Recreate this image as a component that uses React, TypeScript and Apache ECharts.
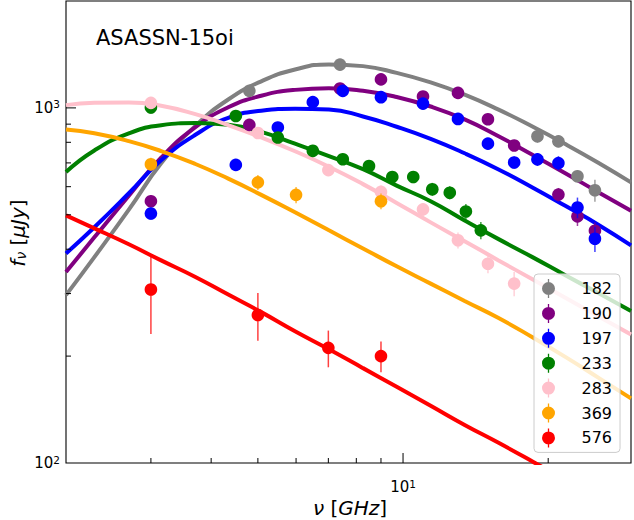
import React, { useEffect, useRef } from 'react';
import * as echarts from 'echarts';

const FONT = 'DejaVu Sans';

const seriesNames = ['182', '190', '197', '233', '283', '369', '576'];
const seriesColors = ['#808080', '#800080', '#0000ff', '#008000', '#ffc0cb', '#ffa500', '#ff0000'];

// observed points: [frequency (GHz), flux density (μJy), error]
const obs182 = [[4.8, 1117, 30], [7.4, 1324, 35], [19, 832, 35], [21, 805, 30], [23, 642, 25], [25, 586, 42]];
const obs190 = [[3, 546, 22], [4.8, 896, 30], [7.4, 1134, 40], [9, 1203, 35], [11, 1077, 35], [13, 1102, 35], [15, 929, 30], [17, 784, 28], [21, 570, 25], [23, 495, 30], [25, 451, 25]];
const obs197 = [[3, 504, 20], [4.5, 691, 22], [5.5, 881, 28], [6.5, 1038, 30], [7.5, 1117, 40], [9, 1072, 30], [11, 1028, 30], [13, 931, 30], [15, 793, 30], [17, 702, 28], [19, 716, 30], [21, 699, 32], [23, 524, 35], [25, 428, 35]];
const obs233 = [[3, 1003, 40], [4.5, 949, 30], [5.5, 825, 28], [6.5, 757, 28], [7.5, 717, 25], [8.5, 686, 25], [9.5, 639, 25], [10.5, 639, 25], [11.5, 590, 25], [12.5, 577, 25], [13.5, 511, 25], [14.5, 452, 25]];
const obs283 = [[3, 1033, 35], [5, 850, 30], [7, 668, 25], [9, 580, 25], [11, 518, 22], [13, 424, 22], [15, 364, 22], [17, 320, 25]];
const obs369 = [[3, 694, 30], [5, 617, 30], [6, 569, 30], [9, 546, 28]];
const obs576 = [[3, 308, 77], [5, 261, 40], [7, 211, 25], [9, 200, 20]];

// model curves
const curveFreq = [2.0, 2.29, 2.7, 3.15, 3.71, 4.34, 5.08, 5.97, 7.02, 8.26, 9.7, 11.41, 13.42, 15.78, 18.55, 21.7, 25.4, 29.7];
const fit182 = [297, 380, 517, 698, 890, 1056, 1188, 1283, 1326, 1311, 1255, 1180, 1090, 989, 886, 791, 701, 617];
const fit190 = [345, 432, 566, 724, 883, 1004, 1082, 1124, 1136, 1117, 1073, 1009, 928, 832, 738, 655, 579, 513];
const fit197 = [389, 461, 575, 712, 840, 938, 982, 995, 990, 946, 885, 818, 745, 671, 597, 530, 469, 410];
const fit233 = [660, 759, 848, 894, 906, 896, 856, 793, 732, 672, 604, 546, 482, 427, 380, 338, 301, 268];
const fit283 = [1018, 1034, 1036, 1014, 960, 894, 826, 755, 683, 610, 540, 476, 421, 372, 329, 292, 259, 230];
const fit369 = [869, 848, 806, 756, 695, 632, 569, 508, 452, 402, 358, 320, 286, 256, 226, 199, 174, 152];
const fit576 = [498, 458, 413, 372, 334, 298, 266, 235, 209, 185, 164, 145, 128, 114, 101, 89.5, 79.6, 70.8];

const xRange = [2, 29.7];
const yRange = [100, 2000];
const xMajorTicks = [10];
const xMinorTicks = [3, 4, 5, 6, 7, 8, 9, 20];
const yMajorTicks = [1000];
const yMinorTicks = [200, 300, 400, 500, 600, 700, 800, 900];

const observed = [obs182, obs190, obs197, obs233, obs283, obs369, obs576];
const fits = [fit182, fit190, fit197, fit233, fit283, fit369, fit576];

const legendIcon =
  'path://M5.85,0 h1.3 v19 h-1.3 Z M0,9.5 a6.5,6.5 0 1,1 13,0 a6.5,6.5 0 1,1 -13,0 Z';

const pow10Label = (v: number) => {
  const e = Math.log10(v);
  const r = Math.round(e);
  if (Math.abs(e - r) > 1e-6) return '';
  return `{a|10}{b|${r}}`;
};

const tickRich = {
  a: { fontSize: 15, lineHeight: 18, fontFamily: FONT, color: '#000' },
  b: { fontSize: 10.5, lineHeight: 10.5, verticalAlign: 'top', fontFamily: FONT, color: '#000' },
};

export default function App() {
  const ref = useRef<HTMLDivElement>(null);

  useEffect(() => {
    if (!ref.current) return;
    const chart = echarts.init(ref.current, undefined, { renderer: 'svg' });

    const series: any[] = [];
    seriesNames.forEach((name, i) => {
      series.push({
        type: 'line',
        name: 'fit-' + name,
        data: curveFreq.map((f, j) => [f, fits[i][j]]),
        symbol: 'none',
        showSymbol: false,
        smooth: 0.5,
        clip: true,
        silent: true,
        lineStyle: { color: seriesColors[i], width: 4 },
        z: 2,
      });
    });
    seriesNames.forEach((name, i) => {
      const color = seriesColors[i];
      series.push({
        type: 'custom',
        name,
        data: observed[i],
        encode: { x: 0, y: 1 },
        itemStyle: { color },
        z: 3,
        silent: true,
        renderItem: (params: any, api: any) => {
          const x = api.value(0);
          const y = api.value(1);
          const e = api.value(2);
          const c = api.coord([x, y]);
          const top = api.coord([x, y + e]);
          const bot = api.coord([x, y - e]);
          return {
            type: 'group',
            children: [
              {
                type: 'line',
                shape: { x1: c[0], y1: top[1], x2: c[0], y2: bot[1] },
                style: { stroke: color, lineWidth: 1.5, opacity: 0.75 },
              },
              {
                type: 'circle',
                shape: { cx: c[0], cy: c[1], r: 6.3 },
                style: { fill: color },
              },
            ],
          };
        },
      });
    });

    const option: any = {
      animation: false,
      backgroundColor: '#ffffff',
      textStyle: { fontFamily: FONT },
      grid: {
        left: 66,
        right: 1,
        top: 1,
        bottom: 57,
        show: true,
        borderColor: '#000',
        borderWidth: 1.1,
        backgroundColor: 'transparent',
      },
      xAxis: {
        type: 'log',
        logBase: 10,
        min: xRange[0],
        max: xRange[1],
        axisLine: { show: false },
        axisTick: { show: false },
        splitLine: { show: false },
        minorTick: { show: false },
        axisLabel: { formatter: pow10Label, margin: 15, rich: tickRich },
      },
      yAxis: {
        type: 'log',
        logBase: 10,
        min: yRange[0],
        max: yRange[1],
        axisLine: { show: false },
        axisTick: { show: false },
        splitLine: { show: false },
        minorTick: { show: false },
        axisLabel: { formatter: pow10Label, margin: 6, rich: tickRich },
      },
      legend: {
        orient: 'vertical',
        left: 534,
        top: 274,
        padding: [5, 8, 5, 8],
        itemWidth: 30,
        itemHeight: 19,
        itemGap: 5.9,
        selectedMode: false,
        backgroundColor: 'rgba(255,255,255,0.8)',
        borderColor: '#cccccc',
        borderWidth: 1,
        borderRadius: 4,
        textStyle: { fontSize: 16, color: '#000', fontFamily: FONT, padding: [0, 0, 0, 13], lineHeight: 19 },
        data: seriesNames.map((n) => ({ name: n, icon: legendIcon })),
        z: 10,
      },
      series,
    };

    chart.setOption(option);

    const px = (v: number) => chart.convertToPixel({ xAxisIndex: 0 }, v) as number;
    const py = (v: number) => chart.convertToPixel({ yAxisIndex: 0 }, v) as number;
    const bottomY = py(yRange[0]);
    const leftX = px(xRange[0]);
    const tickStyle = { stroke: '#000', lineWidth: 1 };
    const graphics: any[] = [];
    const addX = (v: number, len: number) => {
      const x = px(v);
      graphics.push({ type: 'line', silent: true, z: 20, shape: { x1: x, y1: bottomY, x2: x, y2: bottomY - len }, style: tickStyle });
    };
    const addY = (v: number, len: number) => {
      const y = py(v);
      graphics.push({ type: 'line', silent: true, z: 20, shape: { x1: leftX, y1: y, x2: leftX + len, y2: y }, style: tickStyle });
    };
    xMajorTicks.forEach((v) => addX(v, 10));
    xMinorTicks.forEach((v) => addX(v, 5));
    yMajorTicks.forEach((v) => addY(v, 10));
    yMinorTicks.forEach((v) => addY(v, 5));

    graphics.push({
      type: 'text',
      x: 96,
      y: 38,
      silent: true,
      z: 20,
      style: { text: 'ASASSN-15oi', fontSize: 21, fontFamily: FONT, fill: '#000', align: 'left', verticalAlign: 'middle' },
    });
    graphics.push({
      type: 'text',
      x: 350,
      y: 508,
      silent: true,
      z: 20,
      style: {
        text: '{i|ν} {r|[}{i|GHz}{r|]}',
        fontSize: 20,
        fontFamily: FONT,
        fill: '#000',
        align: 'center',
        verticalAlign: 'middle',
        rich: {
          i: { fontSize: 20, fontStyle: 'italic', fontFamily: FONT, fill: '#000' },
          r: { fontSize: 20, fontFamily: FONT, fill: '#000' },
        },
      },
    });
    graphics.push({
      type: 'text',
      x: 18.4,
      y: 233,
      rotation: Math.PI / 2,
      silent: true,
      z: 20,
      style: {
        text: '{i|f}{s|ν} {r|[}{i|μJy}{r|]}',
        fontSize: 20,
        fontFamily: FONT,
        fill: '#000',
        align: 'center',
        verticalAlign: 'middle',
        rich: {
          i: { fontSize: 20, lineHeight: 20, verticalAlign: 'top', fontStyle: 'italic', fontFamily: FONT, fill: '#000' },
          s: { fontSize: 14, lineHeight: 14, verticalAlign: 'bottom', fontStyle: 'italic', fontFamily: FONT, fill: '#000' },
          r: { fontSize: 20, lineHeight: 20, verticalAlign: 'top', fontFamily: FONT, fill: '#000' },
        },
      },
    });

    chart.setOption({ graphic: graphics });

    return () => chart.dispose();
  }, []);

  return <div ref={ref} style={{ position: 'fixed', left: 0, top: 0, width: 634, height: 520 }} />;
}
